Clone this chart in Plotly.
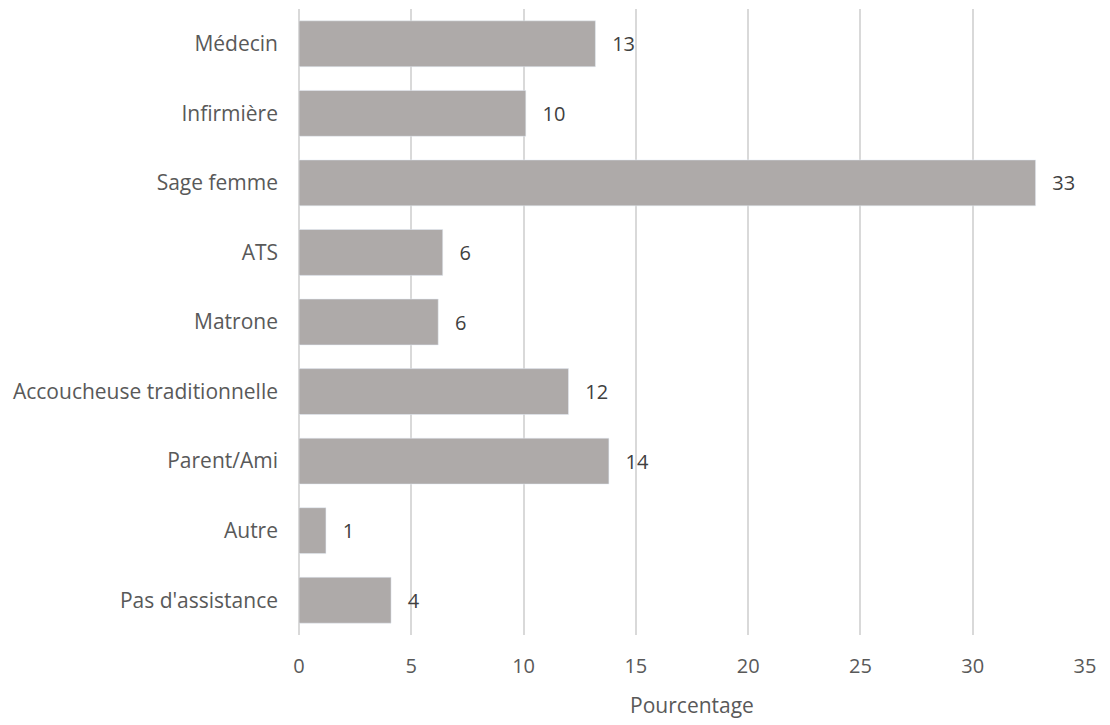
import plotly.graph_objects as go

categories = [
    "Médecin",
    "Infirmière",
    "Sage femme",
    "ATS",
    "Matrone",
    "Accoucheuse traditionnelle",
    "Parent/Ami",
    "Autre",
    "Pas d'assistance",
]
values = [13.2, 10.1, 32.8, 6.4, 6.2, 12.0, 13.8, 1.2, 4.1]
labels = ["13", "10", "33", "6", "6", "12", "14", "1", "4"]

FONT = "Open Sans"

fig = go.Figure(
    go.Bar(
        x=values,
        y=categories,
        orientation="h",
        marker=dict(color="#aeaaa9"),
        text=labels,
        texttemplate="  \u2009%{text}",
        textposition="outside",
        cliponaxis=False,
        textfont=dict(family=FONT, size=20, color="#404040"),
        hoverinfo="skip",
    )
)

# page body has an 8px margin, so the figure is sized to fit the window
fig.update_layout(
    width=1102,
    height=717,
    margin=dict(l=291, r=25, t=1, b=90),
    paper_bgcolor="white",
    plot_bgcolor="white",
    showlegend=False,
    bargap=0.34,
    font=dict(family=FONT, size=20, color="#595959"),
)
fig.update_xaxes(
    range=[0, 35],
    dtick=5,
    showgrid=True,
    gridcolor="#d9d9d9",
    gridwidth=1.5,
    zeroline=True,
    zerolinecolor="#d9d9d9",
    zerolinewidth=1.5,
    showline=False,
    ticks="",
    ticklabelstandoff=17,
    tickfont=dict(size=20, color="#595959"),
    title=dict(text="Pourcentage", font=dict(size=21, color="#595959"), standoff=20),
)
fig.update_yaxes(
    autorange="reversed",
    showgrid=False,
    showline=False,
    ticks="",
    ticklabelstandoff=20,
    tickfont=dict(size=21, color="#595959"),
)

fig.write_html("out.html")
